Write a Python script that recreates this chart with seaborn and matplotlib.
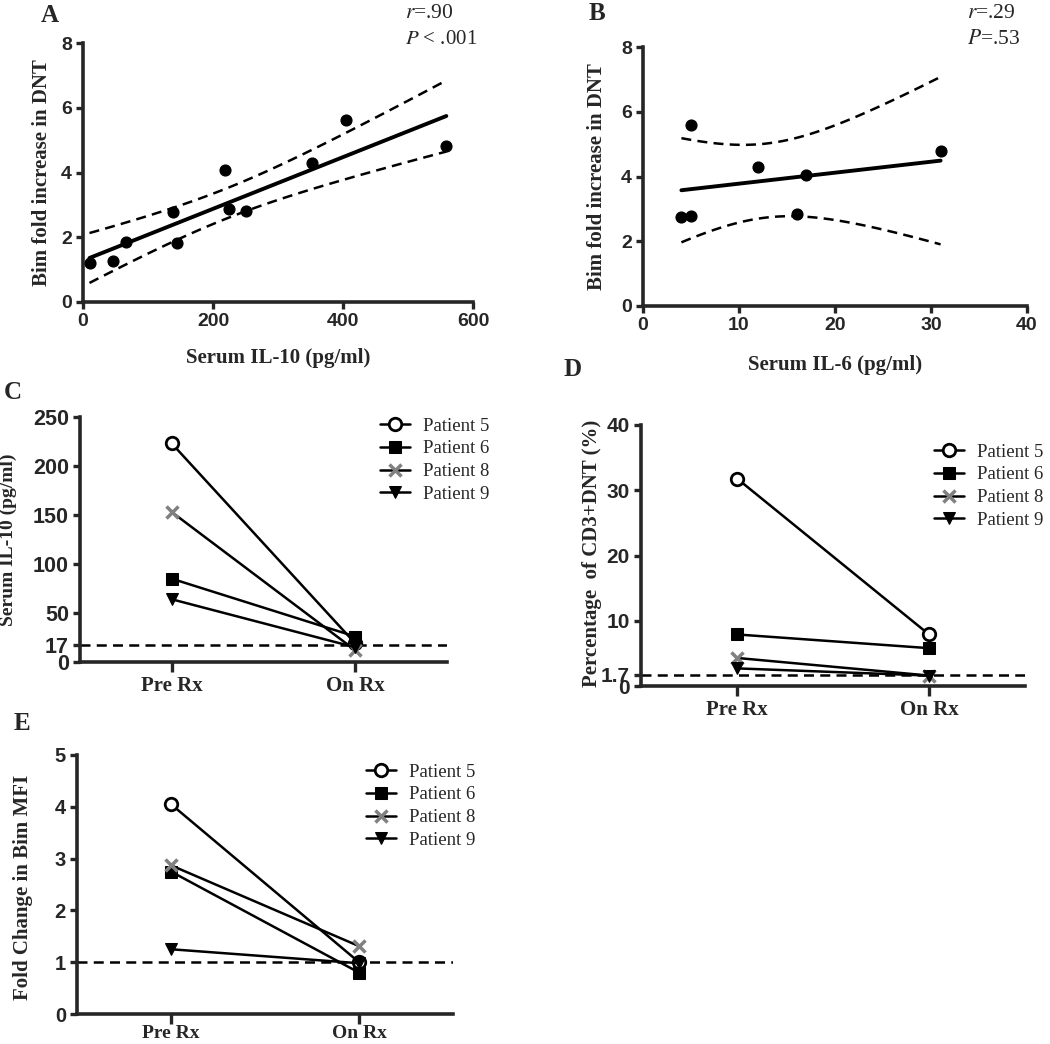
import numpy as np
import pandas as pd
import matplotlib
matplotlib.use("Agg")
import matplotlib.pyplot as plt
import seaborn as sns

sns.set_theme(style="ticks")
plt.rcParams["font.family"] = ["Liberation Sans", "DejaVu Sans"]
plt.rcParams["mathtext.fontset"] = "stix"

SERIF = "Liberation Serif"

# --- panel A: Bim vs serum IL-10 ---
il10 = [10, 46, 66, 138, 145, 218, 224, 251, 353, 405, 559]
bim_a = [1.22, 1.26, 1.85, 2.77, 1.81, 4.07, 2.86, 2.81, 4.30, 5.61, 4.81]

# --- panel B: Bim vs serum IL-6 ---
il6 = [4, 5, 5, 12, 16, 17, 31]
bim_b = [2.75, 2.78, 5.60, 4.30, 2.85, 4.05, 4.80]

# --- panels C-E: paired patients ---
timepoints = ["Pre Rx", "On Rx"]
patients = ["Patient 5", "Patient 6", "Patient 8", "Patient 9"]
il10_pat = {"Patient 5": [223, 19], "Patient 6": [85, 26],
            "Patient 8": [153, 12], "Patient 9": [64, 15]}
dnt_pat = {"Patient 5": [31.8, 7.9], "Patient 6": [7.9, 5.8],
           "Patient 8": [4.3, 1.6], "Patient 9": [2.7, 1.6]}
mfi_pat = {"Patient 5": [4.05, 1.0], "Patient 6": [2.75, 0.8],
           "Patient 8": [2.87, 1.31], "Patient 9": [1.25, 0.98]}

marker_style = {
    "Patient 5": dict(marker="o", mfc="white", mec="black", ms=9, mew=2),
    "Patient 6": dict(marker="s", mfc="black", mec="black", ms=8),
    "Patient 8": dict(marker="x", mfc="gray", mec="gray", ms=9, mew=2.5),
    "Patient 9": dict(marker="v", mfc="black", mec="black", ms=8),
}

DASH = (0, (4, 2.5))

fig = plt.figure(figsize=(10.5, 10.44), dpi=100)
W, H = 1050, 1044


def add_axes(left, right, top, bottom):
    return fig.add_axes([left / W, 1 - bottom / H, (right - left) / W, (bottom - top) / H])


def style_axis(ax, size):
    sns.despine(ax=ax)
    for s in ["left", "bottom"]:
        ax.spines[s].set_linewidth(2.6)
    ax.tick_params(width=2.4, length=5, labelsize=size, pad=3)
    for lab in ax.get_xticklabels() + ax.get_yticklabels():
        lab.set_fontweight("bold")


def axis_label(ax, which, text, pos, size=15):
    kw = dict(fontfamily=SERIF, fontweight="bold", fontsize=size)
    if which == "y":
        ax.set_ylabel(text, **kw)
        ax.yaxis.set_label_coords(*pos)
    else:
        ax.set_xlabel(text, **kw)
        ax.xaxis.set_label_coords(*pos)


def regression_panel(ax, x, y, tval):
    x = np.asarray(x, float)
    y = np.asarray(y, float)
    sns.regplot(x=x, y=y, ax=ax, ci=None, truncate=True,
                scatter_kws=dict(s=60, color="black", edgecolor="black", alpha=1, zorder=3),
                line_kws=dict(color="black", lw=2.8))
    # 95% confidence band of the fit, drawn as dashed lines
    n = len(x)
    b, a = np.polyfit(x, y, 1)
    resid = y - (a + b * x)
    s = np.sqrt(np.sum(resid ** 2) / (n - 2))
    xs = np.linspace(x.min(), x.max(), 100)
    half = tval * s * np.sqrt(1 / n + (xs - x.mean()) ** 2 / np.sum((x - x.mean()) ** 2))
    fit = a + b * xs
    for band in (fit + half, fit - half):
        sns.lineplot(x=xs, y=band, ax=ax, color="black", lw=1.8, linestyle=DASH)


def paired_panel(ax, data, ylim, yticks, ref, size, xsize=15):
    for p in patients:
        df = pd.DataFrame({"time": timepoints, "value": data[p]})
        sns.lineplot(data=df, x="time", y="value", ax=ax, sort=False, color="black",
                     lw=1.8, label=p, **marker_style[p])
    ax.axhline(ref, color="black", lw=1.8, linestyle=DASH, zorder=0)
    ax.set_xlim(-0.5, 1.5)
    ax.set_ylim(*ylim)
    ax.set_yticks(yticks)
    ax.set_yticklabels([f"{t:g}" for t in yticks])
    style_axis(ax, size)
    for lab in ax.get_xticklabels():
        lab.set_fontfamily(SERIF)
        lab.set_fontsize(xsize)
    ax.tick_params(axis="x", length=7)
    ax.set_xlabel("")


# ---------- A ----------
axA = add_axes(83, 473, 43, 302)
regression_panel(axA, il10, bim_a, 2.262)
axA.set_xlim(0, 600)
axA.set_ylim(0, 8)
axA.set_xticks([0, 200, 400, 600])
axA.set_yticks([0, 2, 4, 6, 8])
style_axis(axA, 14)
axis_label(axA, "y", "Bim fold increase in DNT", (-0.079, 0.5))
axis_label(axA, "x", "Serum IL-10 (pg/ml)", (0.5, -0.178))

# ---------- B ----------
axB = add_axes(643, 1027, 47, 306)
regression_panel(axB, il6, bim_b, 2.571)
axB.set_xlim(0, 40)
axB.set_ylim(0, 8)
axB.set_xticks([0, 10, 20, 30, 40])
axB.set_yticks([0, 2, 4, 6, 8])
style_axis(axB, 14)
axis_label(axB, "y", "Bim fold increase in DNT", (-0.094, 0.5))
axis_label(axB, "x", "Serum IL-6 (pg/ml)", (0.5, -0.19))

# ---------- C ----------
axC = add_axes(80, 447, 417, 662)
paired_panel(axC, il10_pat, (0, 250), [0, 17, 50, 100, 150, 200, 250], 17, 15.5)
axis_label(axC, "y", "Serum IL-10 (pg/ml)", (-0.172, 0.5), size=14)

# ---------- D ----------
axD = add_axes(641, 1025, 425, 686)
paired_panel(axD, dnt_pat, (0, 40), [0, 1.7, 10, 20, 30, 40], 1.7, 15)
axis_label(axD, "y", "Percentage  of CD3+DNT (%)", (-0.102, 0.51))

# ---------- E ----------
axE = add_axes(77, 453, 755, 1014)
paired_panel(axE, mfi_pat, (0, 5), [0, 1, 2, 3, 4, 5], 1, 14.5, xsize=14)
axE.tick_params(axis="x", pad=1)
axis_label(axE, "y", "Fold Change in Bim MFI", (-0.117, 0.49))

# legends
for ax, (lx, ly) in [(axC, (372, 410)), (axD, (926, 436)), (axE, (358, 756))]:
    ax.legend(loc="upper left", bbox_to_anchor=(lx / W, 1 - ly / H),
              bbox_transform=fig.transFigure, frameon=False,
              prop=dict(family=SERIF, size=13.5), handlelength=1.6,
              handletextpad=0.7, labelspacing=0.3, borderaxespad=0)

# stats annotations
fig.text(405 / W, 1 - 13 / H, "$r$=.90", fontfamily=SERIF, fontsize=15.5, va="center")
fig.text(405 / W, 1 - 40 / H, "$P$ < .001", fontfamily=SERIF, fontsize=15, va="center")
fig.text(967 / W, 1 - 13 / H, "$r$=.29", fontfamily=SERIF, fontsize=15.5, va="center")
fig.text(967 / W, 1 - 40 / H, "$P$=.53", fontfamily=SERIF, fontsize=15.5, va="center")

# panel letters
for letter, x, y in [("A", 50, 15), ("B", 597, 13), ("C", 13, 392), ("D", 573, 370), ("E", 22, 723)]:
    fig.text(x / W, 1 - y / H, letter, fontfamily=SERIF, fontweight="bold",
             fontsize=18, ha="center", va="center")

fig.savefig("out.png", dpi=100)
